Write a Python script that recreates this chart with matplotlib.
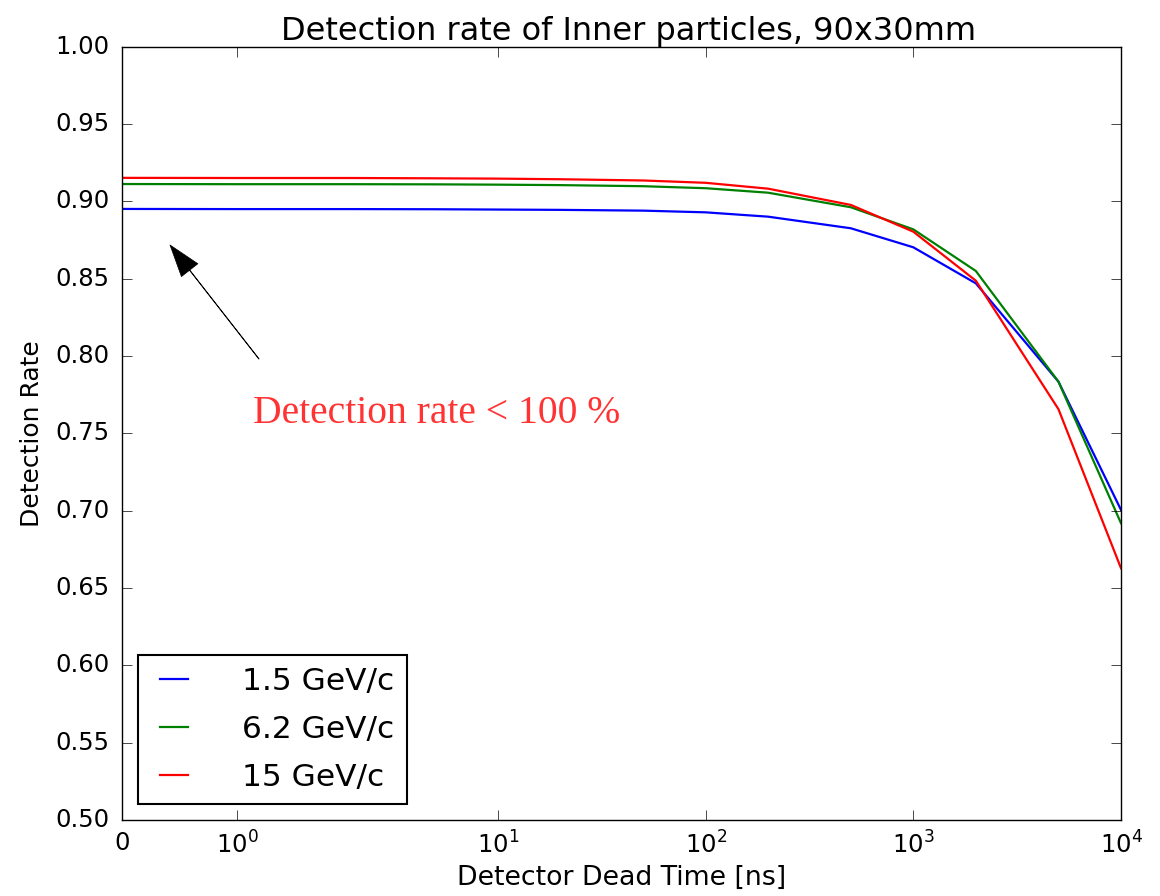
import matplotlib
matplotlib.use('Agg')
import matplotlib.pyplot as plt
from matplotlib.ticker import NullLocator, FixedLocator

plt.style.use('classic')

# dead time [ns]
dead_time = [0, 1, 2, 5, 10, 20, 50, 100, 200, 500, 1000, 2000, 5000, 10000]

rate_1p5 = [0.8951, 0.8950, 0.8950, 0.8949, 0.8947, 0.8945, 0.8940, 0.8929,
            0.8901, 0.8826, 0.8703, 0.8470, 0.7834, 0.7005]
rate_6p2 = [0.9112, 0.9111, 0.9111, 0.9110, 0.9108, 0.9105, 0.9098, 0.9085,
            0.9056, 0.8962, 0.8819, 0.8550, 0.7834, 0.6919]
rate_15 = [0.9152, 0.9151, 0.9151, 0.9149, 0.9147, 0.9143, 0.9135, 0.9120,
           0.9082, 0.8977, 0.8804, 0.8487, 0.7656, 0.6628]

labels = ['1.5 GeV/c', '6.2 GeV/c', '15 GeV/c']
xticks = [0, 1, 10, 100, 1000, 10000]
yticks = [0.50, 0.55, 0.60, 0.65, 0.70, 0.75, 0.80, 0.85, 0.90, 0.95, 1.00]

fig = plt.figure(figsize=(11.6, 8.96), dpi=100, facecolor='white')
ax = fig.add_subplot(111)
fig.subplots_adjust(left=122/1160, right=1121/1160,
                    bottom=(896-820)/896, top=(896-46.7)/896)

ax.plot(dead_time, rate_1p5, color='#0000ff', lw=1.6, label=labels[0])
ax.plot(dead_time, rate_6p2, color='#008000', lw=1.6, label=labels[1])
ax.plot(dead_time, rate_15, color='#ff0000', lw=1.6, label=labels[2])

ax.set_xscale('symlog', linthresh=2)
ax.set_xlim(0, 10000)
ax.set_ylim(0.5, 1.0)
ax.xaxis.set_major_locator(FixedLocator(xticks))
ax.xaxis.set_minor_locator(NullLocator())
ax.set_yticks(yticks)
ax.set_yticklabels(['%.2f' % v for v in yticks])
ax.tick_params(labelsize=17.5, direction='in', length=7, top=True, right=True)
ax.tick_params(axis='x', pad=8)
ax.tick_params(axis='y', pad=9)

ax.set_title('Detection rate of Inner particles, 90x30mm', fontsize=23,
             x=0.507)
ax.set_xlabel('Detector Dead Time [ns]', fontsize=19.3)
ax.set_ylabel('Detection Rate', fontsize=18, labelpad=8)

ax.annotate('', xy=(0.416, 0.8718), xytext=(1.187, 0.7981),
            arrowprops=dict(facecolor='black', edgecolor='black', lw=0.5,
                            width=0.3, headwidth=15, headlength=23, shrink=0))
ax.text(1.135, 0.7569, 'Detection rate < 100 %', color='#ff3333',
        fontsize=28.5, family='Liberation Serif')

leg = ax.legend(loc='lower left', fontsize=22.5, handlelength=1.5,
                handletextpad=1.45, labelspacing=0.6, numpoints=2,
                borderaxespad=0.5)
leg.get_frame().set_linewidth(1.5)

fig.savefig('out.png', dpi=100, facecolor='white')
